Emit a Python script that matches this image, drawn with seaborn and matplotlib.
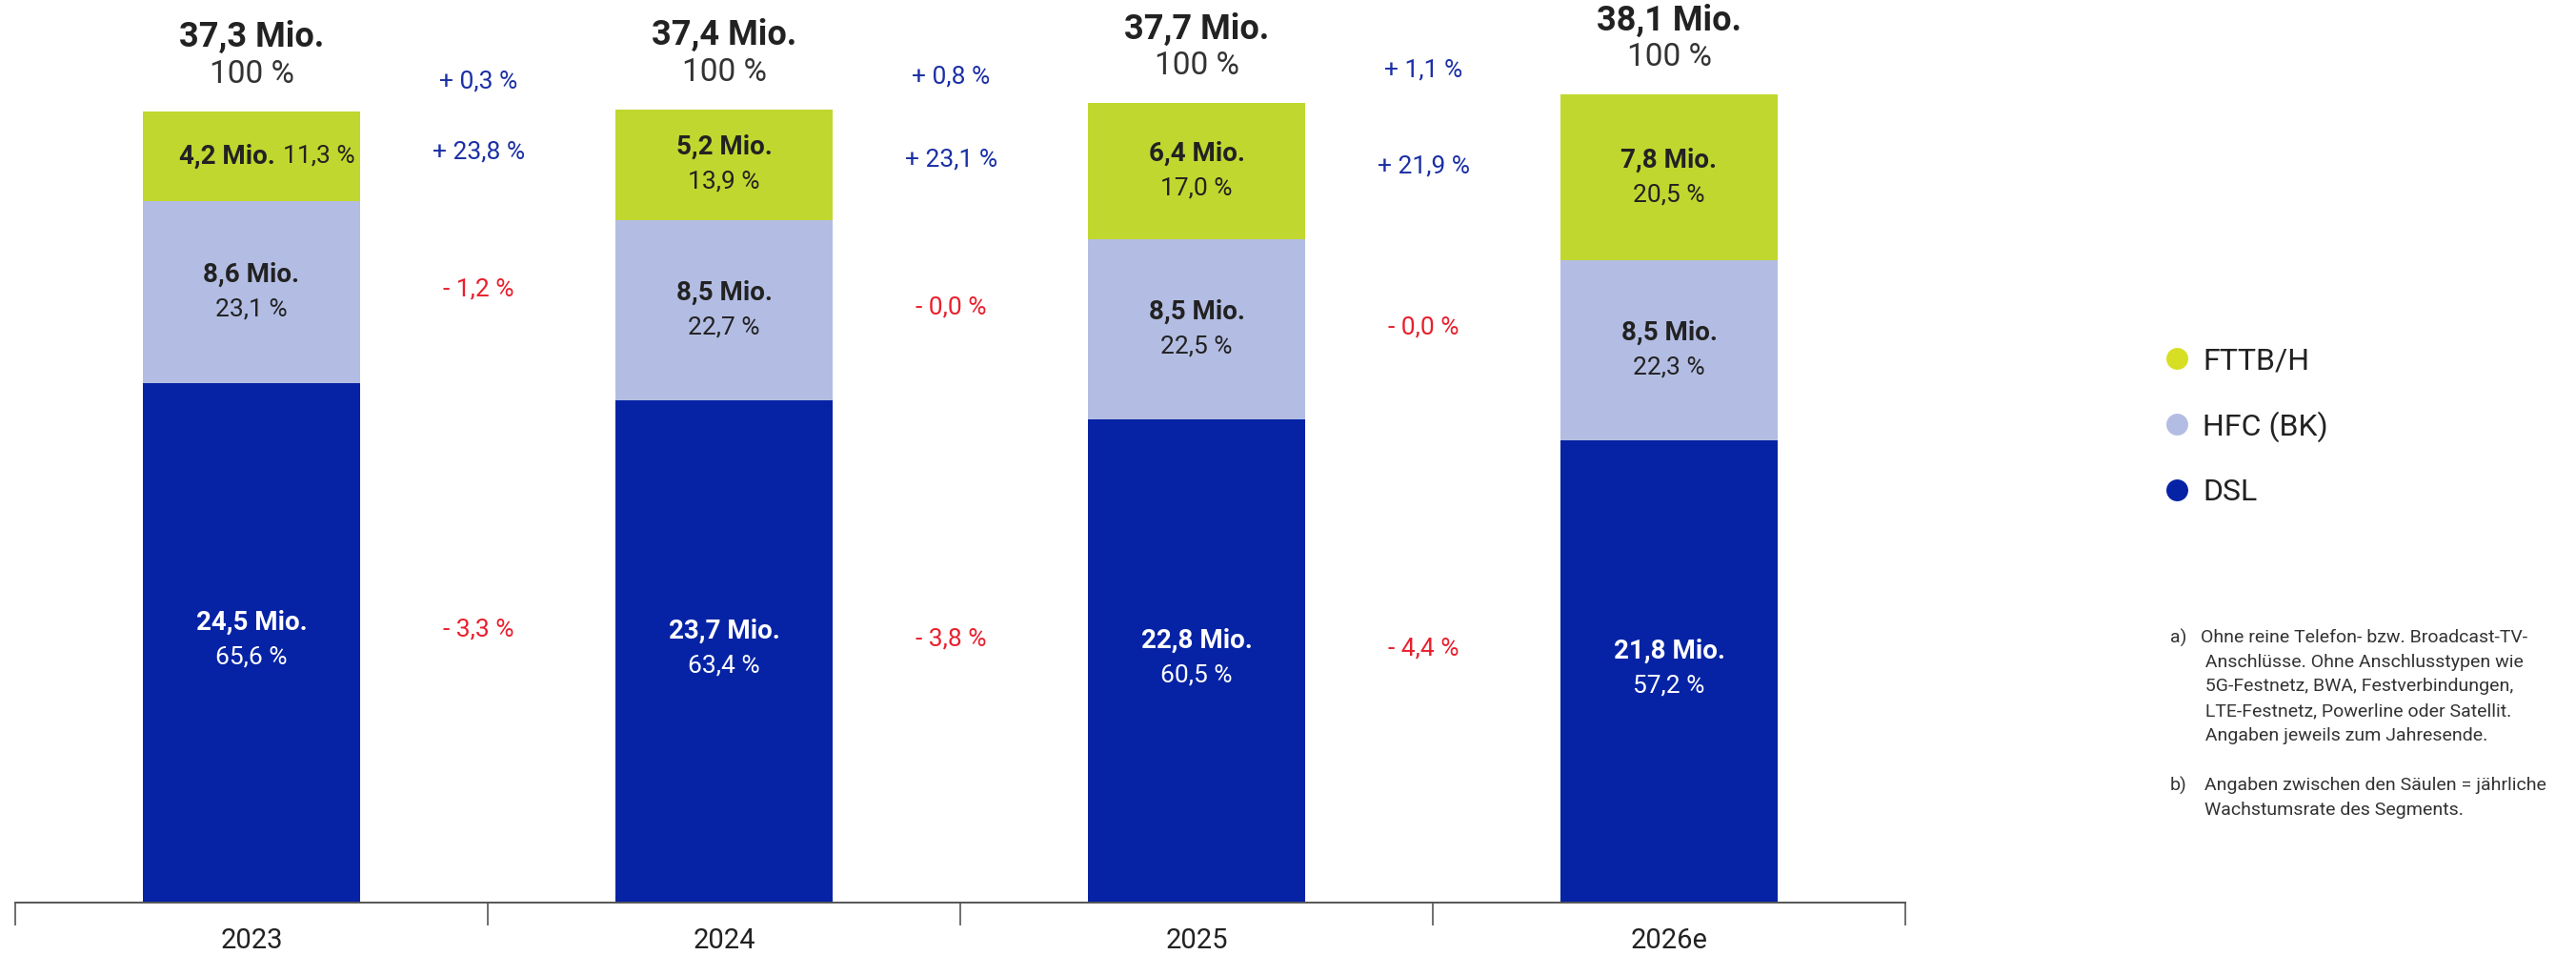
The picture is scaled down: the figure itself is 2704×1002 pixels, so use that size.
import numpy as np
import pandas as pd
import matplotlib
matplotlib.use("Agg")
import matplotlib.pyplot as plt
from matplotlib.lines import Line2D
from matplotlib.ticker import FixedLocator
import seaborn as sns

# ---------------- data ----------------
years = ["2023", "2024", "2025", "2026e"]
dsl = [24.5, 23.7, 22.8, 21.8]
hfc = [8.6, 8.5, 8.5, 8.5]
ftth = [4.2, 5.2, 6.4, 7.8]
totals = [37.3, 37.4, 37.7, 38.1]
dsl_share = [65.6, 63.4, 60.5, 57.2]
hfc_share = [23.1, 22.7, 22.5, 22.3]
ftth_share = [11.3, 13.9, 17.0, 20.5]
growth_total = [0.3, 0.8, 1.1]
growth_ftth = [23.8, 23.1, 21.9]
growth_hfc = [-1.2, -0.0, -0.0]
growth_dsl = [-3.3, -3.8, -4.4]
legend_labels = ["FTTB/H", "HFC (BK)", "DSL"]
footnote_a = ("Ohne reine Telefon- bzw. Broadcast-TV-\n"
              " Anschlüsse. Ohne Anschlusstypen wie\n"
              " 5G-Festnetz, BWA, Festverbindungen,\n"
              " LTE-Festnetz, Powerline oder Satellit.\n"
              " Angaben jeweils zum Jahresende.")
footnote_b = ("Angaben zwischen den Säulen = jährliche\n"
              "Wachstumsrate des Segments.")

# ---------------- style ----------------
GREEN = "#c0d72f"
LEG_GREEN = "#d6df23"
LAV = "#b3bde3"
BLUE = "#0623a5"
POS = "#1b2fa5"
NEG = "#e8202d"
DARK = "#222222"

sns.set_theme(style="white")
plt.rcParams["font.family"] = ["Roboto", "DejaVu Sans"]


def fmt(v):
    return f"{abs(v):.1f}".replace(".", ",")


def fmt_growth(v):
    sign = "-" if np.signbit(v) else "+"
    return f"{sign} {fmt(v)} %"


df = pd.DataFrame({"year": years, "dsl": dsl, "hfc": hfc, "ftth": ftth})
df["c2"] = df["dsl"] + df["hfc"]
df["c3"] = df["c2"] + df["ftth"]

W, H = 2704, 1002
PX_PER_UNIT = 22.25
fig = plt.figure(figsize=(W / 100, H / 100), dpi=100)
ax = fig.add_axes([16 / W, 55 / H, 1984 / W, 40 * PX_PER_UNIT / H])

bw = 0.46
sns.barplot(data=df, x="year", y="c3", color=GREEN, width=bw, saturation=1,
            errorbar=None, linewidth=0, ax=ax)
sns.barplot(data=df, x="year", y="c2", color=LAV, width=bw, saturation=1,
            errorbar=None, linewidth=0, ax=ax)
sns.barplot(data=df, x="year", y="dsl", color=BLUE, width=bw, saturation=1,
            errorbar=None, linewidth=0, ax=ax)

ax.set_xlim(-0.5, len(years) - 0.5)
ax.set_ylim(0, 40)
ax.set_xlabel("")
ax.set_ylabel("")
ax.set_yticks([])
for s in ["left", "right", "top"]:
    ax.spines[s].set_visible(False)
ax.spines["bottom"].set_color("#555555")
ax.spines["bottom"].set_linewidth(1.4)
ax.xaxis.set_minor_locator(FixedLocator(np.arange(-0.5, len(years), 1.0)))
ax.tick_params(axis="x", which="major", length=0, pad=19, labelsize=21,
               labelcolor=DARK)
ax.tick_params(axis="x", which="minor", length=17, width=1.2, color="#555555",
               direction="out", bottom=True)


def ann(text, x, y, dy, ha="center", dx=0, **kw):
    ax.annotate(text, xy=(x, y), xytext=(dx, dy), textcoords="offset points",
                ha=ha, va="center", annotation_clip=False, **kw)


n = len(years)
for i in range(n):
    top = df["c3"][i]
    ann(f"{fmt(totals[i])} Mio.", i, top, 56, fontsize=26, fontweight="bold", color=DARK)
    ann("100 %", i, top, 28, fontsize=24, color="#333333")

    # FTTB/H
    mid = df["c2"][i] + ftth[i] / 2
    if i == 0:
        ann(f"{fmt(ftth[i])} Mio.", i + 0.055, mid, 0, ha="right", dx=-2,
            fontsize=20, fontweight="bold", color=DARK)
        ann(f"{fmt(ftth_share[i])} %", i + 0.055, mid, 0, ha="left", dx=4,
            fontsize=19, color=DARK)
    else:
        ann(f"{fmt(ftth[i])} Mio.", i, mid, 13, fontsize=20, fontweight="bold", color=DARK)
        ann(f"{fmt(ftth_share[i])} %", i, mid, -13, fontsize=19, color=DARK)

    # HFC
    mid = dsl[i] + hfc[i] / 2
    ann(f"{fmt(hfc[i])} Mio.", i, mid, 13, fontsize=20, fontweight="bold", color=DARK)
    ann(f"{fmt(hfc_share[i])} %", i, mid, -13, fontsize=19, color=DARK)

    # DSL
    mid = dsl[i] / 2
    ann(f"{fmt(dsl[i])} Mio.", i, mid, 15, fontsize=20, fontweight="bold", color="white")
    ann(f"{fmt(dsl_share[i])} %", i, mid, -11, fontsize=19, color="white")

# growth labels between bars
for j in range(n - 1):
    x = j + 0.48
    ytot = (df["c3"][j] + df["c3"][j + 1]) / 2
    yf = ((df["c2"][j] + ftth[j] / 2) + (df["c2"][j + 1] + ftth[j + 1] / 2)) / 2
    yh = ((dsl[j] + hfc[j] / 2) + (dsl[j + 1] + hfc[j + 1] / 2)) / 2
    yd = (dsl[j] / 2 + dsl[j + 1] / 2) / 2
    for val, y, dy in [(growth_total[j], ytot, 22), (growth_ftth[j], yf, 6),
                       (growth_hfc[j], yh, 9), (growth_dsl[j], yd, 13)]:
        col = NEG if np.signbit(val) else POS
        ann(fmt_growth(val), x, y, dy, fontsize=19, color=col)

# legend
handles = [Line2D([], [], marker="o", ls="", markersize=16.5, markerfacecolor=c,
                  markeredgewidth=0) for c in [LEG_GREEN, LAV, BLUE]]
fig.legend(handles, legend_labels, loc="upper left",
           bbox_to_anchor=(2269 / W, 1 - 364 / H), frameon=False, fontsize=23,
           handlelength=1.0, handletextpad=0.35, labelspacing=1.2, borderpad=0,
           borderaxespad=0, labelcolor=DARK)

# footnotes
fig.text(2278 / W, 1 - 660 / H, "a)", fontsize=14, color="#333333", va="top", ha="left")
fig.text(2310 / W, 1 - 660 / H, footnote_a, fontsize=14, color="#333333", va="top",
         ha="left", linespacing=1.55)
fig.text(2278 / W, 1 - 815 / H, "b)", fontsize=14, color="#333333", va="top", ha="left")
fig.text(2314 / W, 1 - 815 / H, footnote_b, fontsize=14, color="#333333", va="top",
         ha="left", linespacing=1.55)

fig.savefig("out.png", dpi=100, facecolor="white")
